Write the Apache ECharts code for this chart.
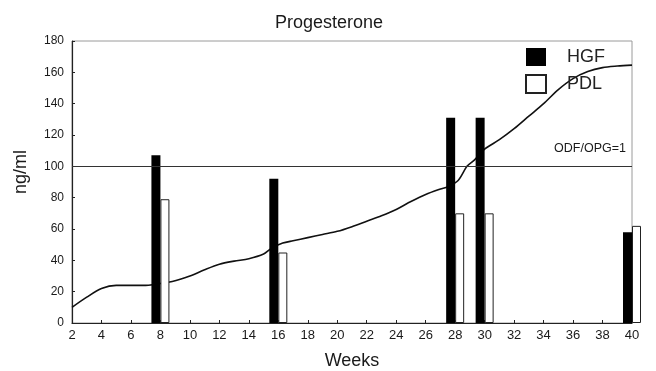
<!DOCTYPE html>
<html>
<head>
<meta charset="utf-8">
<script src="https://cdn.jsdelivr.net/npm/echarts@6/dist/echarts.min.js"></script>
<style>
html,body{margin:0;padding:0;background:#fff;}
#main{width:656px;height:371px;}
</style>
</head>
<body>
<div id="main"></div>
<script>
// weeks where the bars sit
var barWeeks = [8, 16, 28, 30, 40];
var hgf = [107, 92, 131, 131, 58];
var pdl = [79, 45, 70, 70, 62];

// progesterone curve
var curveWeeks = [2, 3, 4, 5, 6, 7, 7.5, 8.8, 10, 11, 12, 13, 14, 15, 15.5, 16.3, 17, 18, 19, 20, 21, 22, 23, 24, 25, 26, 27, 27.5, 28.2, 28.8, 29.3, 30, 31, 32, 33, 34, 35, 36, 37, 38, 39, 40];
var curveVals  = [10, 16.5, 22, 24, 24, 24, 24.5, 26.5, 30, 34, 37.5, 39.5, 41, 44, 47.5, 51, 52.5, 54.5, 56.5, 58.5, 61.5, 65, 68.5, 72.5, 77.5, 82, 85.5, 87, 91, 100, 104, 111, 117, 124, 132, 140, 149, 156, 160.5, 163, 164, 164.6];

var ratioLine = 100;

function pairs(xs, ys){
	var out = [];
	for (var i = 0; i < xs.length; i++) {
		out.push([xs[i], ys[i]]);
	}
	return out;
}

var myChart = echarts.init(document.getElementById('main'));
var txt = '#1a1a1a';
var fnt = 'Liberation Sans, Arial, sans-serif';

myChart.setOption({
	animation: false,
	title: {
		text: 'Progesterone',
		left: 324, top: 9, textAlign: 'center',
		textStyle: {fontSize: 18, fontWeight: 'normal', color: txt, fontFamily: fnt}
	},
	legend: {
		orient: 'vertical',
		left: 525, top: 48, padding: 0,
		itemWidth: 20, itemHeight: 18, itemGap: 8,
		icon: 'rect',
		textStyle: {fontSize: 18, color: '#222', fontFamily: fnt, padding: [0, 0, 0, 16]},
		data: ['HGF', 'PDL']
	},
	grid: {
		left: 72, right: 24, top: 41, bottom: 48,
		outerBoundsMode: 'none',
		show: true, borderColor: '#9a9a9a', borderWidth: 1
	},
	xAxis: {
		type: 'value', min: 2, max: 40, interval: 2,
		name: 'Weeks', nameLocation: 'middle', nameGap: 29,
		nameTextStyle: {fontSize: 18, color: txt, fontFamily: fnt},
		axisLine: {lineStyle: {color: '#222', width: 1.2}},
		axisTick: {inside: true, length: 3, lineStyle: {color: '#222'}},
		axisLabel: {fontSize: 13, color: txt, fontFamily: fnt, margin: 6},
		splitLine: {show: false}
	},
	yAxis: {
		type: 'value', min: 0, max: 180, interval: 20,
		name: 'ng/ml', nameLocation: 'middle', nameGap: 42,
		nameTextStyle: {fontSize: 18, color: txt, fontFamily: fnt, padding: [0, 0, 0, 20]},
		axisLine: {show: true, lineStyle: {color: '#222', width: 1.2}},
		axisTick: {show: true, inside: true, length: 3, lineStyle: {color: '#222'}},
		axisLabel: {fontSize: 12, color: txt, fontFamily: fnt, margin: 8},
		splitLine: {show: false}
	},
	series: [
		{
			name: 'Progesterone', type: 'line',
			data: pairs(curveWeeks, curveVals),
			smooth: 0.3, showSymbol: false, z: 1,
			lineStyle: {color: '#111', width: 1.6},
			markLine: {
				silent: true, symbol: 'none',
				lineStyle: {color: '#333', width: 1, type: 'solid'},
				label: {
					position: 'insideEndTop', formatter: 'ODF/OPG=1',
					fontSize: 12.5, color: txt, fontFamily: fnt, distance: [6, 11]
				},
				data: [{yAxis: ratioLine}]
			}
		},
		{
			name: 'HGF', type: 'bar', clip: false, z: 3,
			data: pairs(barWeeks, hgf),
			barWidth: 9, barGap: '0%',
			itemStyle: {color: '#000', borderColor: '#000', borderWidth: 0}
		},
		{
			name: 'PDL', type: 'bar', clip: false, z: 3,
			data: pairs(barWeeks, pdl),
			barWidth: 9, barGap: '0%',
			itemStyle: {color: '#fff', borderColor: '#222', borderWidth: 1}
		}
	]
});
</script>
</body>
</html>
